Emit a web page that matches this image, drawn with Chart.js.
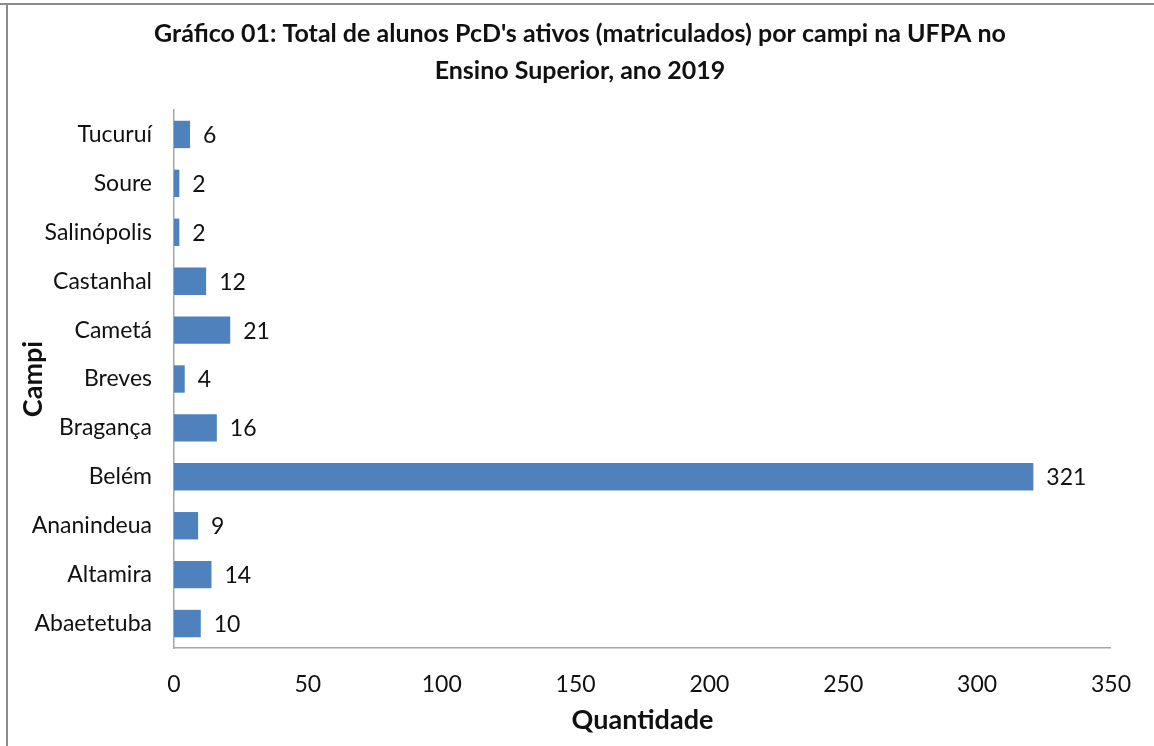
<!DOCTYPE html>
<html>
<head>
<meta charset="utf-8">
<script src="https://cdn.jsdelivr.net/npm/chart.js@4/dist/chart.umd.min.js"></script>
<style>
  html, body { margin: 0; padding: 0; background: #fff; }
  #wrap { width: 1154px; height: 746px; position: relative; }
</style>
</head>
<body>
<div id="wrap"><canvas id="myChart"></canvas></div>
<script>
// campi, top to bottom as in the figure
const campi = ["Tucuruí", "Soure", "Salinópolis", "Castanhal", "Cametá", "Breves", "Bragança", "Belém", "Ananindeua", "Altamira", "Abaetetuba"]
const alunos = [6, 2, 2, 12, 21, 4, 16, 321, 9, 14, 10]
const xTicks = [0, 50, 100, 150, 200, 250, 300, 350]
const titulo = ["Gráfico 01: Total de alunos PcD's ativos (matriculados) por campi na UFPA no", "Ensino Superior, ano 2019"]

const fontFam = "Lato, 'Open Sans', sans-serif"
const textColor = "#111"

// outer frame (top + left edge only, like the scanned figure) and the title,
// which is centred on the whole page, not on the plot
const framePlugin = {
    id: "frame",
    beforeDraw(chart) {
        const ctx = chart.ctx
        ctx.save()
        ctx.fillStyle = "#fff"
        ctx.fillRect(0, 0, chart.width, chart.height)
        ctx.strokeStyle = "#8c8c8c"
        ctx.lineWidth = 2
        ctx.beginPath()
        ctx.moveTo(0, 4)
        ctx.lineTo(chart.width, 4)
        ctx.moveTo(7, 4)
        ctx.lineTo(7, chart.height)
        ctx.stroke()

        ctx.font = "bold 25px " + fontFam
        ctx.fillStyle = textColor
        ctx.textAlign = "center"
        ctx.textBaseline = "middle"
        titulo.forEach((line, i) => {
            ctx.fillText(line, chart.width / 2 + 3, 34 + i * 37)
        })
        ctx.restore()
    }
}

// value labels at the end of each bar
const valueLabels = {
    id: "valueLabels",
    afterDatasetsDraw(chart) {
        const ctx = chart.ctx
        const meta = chart.getDatasetMeta(0)
        ctx.save()
        ctx.font = "23px " + fontFam
        ctx.fillStyle = textColor
        ctx.textAlign = "left"
        ctx.textBaseline = "middle"
        meta.data.forEach((bar, i) => {
            ctx.fillText(String(alunos[i]), bar.x + 13, bar.y + 1)
        })
        ctx.restore()
    }
}

var chartField = document.querySelector("#myChart").getContext("2d")

var myChart = new Chart(chartField, {
    type: "bar",
    data: {
        labels: campi,
        datasets: [{
            data: alunos,
            backgroundColor: "#4F81BD",
            borderWidth: 0,
            categoryPercentage: 1,
            barPercentage: 0.56
        }]
    },
    plugins: [framePlugin, valueLabels],
    options: {
        indexAxis: "y",
        responsive: true,
        maintainAspectRatio: false,
        animation: false,
        layout: { padding: { left: 0, right: 37, top: 110, bottom: 0 } },
        plugins: {
            legend: { display: false },
            tooltip: { enabled: false },
            title: { display: false }
        },
        scales: {
            x: {
                min: 0,
                max: 350,
                afterBuildTicks: (axis) => { axis.ticks = xTicks.map(v => ({ value: v })) },
                grid: { display: false, drawTicks: false },
                border: { display: true, color: "#a6a6a6", width: 1.5 },
                ticks: {
                    color: textColor,
                    font: { family: fontFam, size: 23 },
                    padding: 23
                },
                title: {
                    display: true,
                    text: "Quantidade",
                    color: textColor,
                    font: { family: fontFam, size: 27, weight: "bold" },
                    padding: { top: 0, bottom: 10 }
                },
                afterFit: (axis) => { axis.height = 98 }
            },
            y: {
                grid: { display: false, drawTicks: false },
                border: { display: true, color: "#a6a6a6", width: 1.5 },
                ticks: {
                    color: textColor,
                    font: { family: fontFam, size: 23 },
                    padding: 22
                },
                title: {
                    display: true,
                    text: "Campi",
                    color: textColor,
                    font: { family: fontFam, size: 27, weight: "bold" },
                    padding: { top: 17, bottom: 0 }
                },
                afterFit: (axis) => { axis.width = 174 }
            }
        }
    }
});
</script>
</body>
</html>
